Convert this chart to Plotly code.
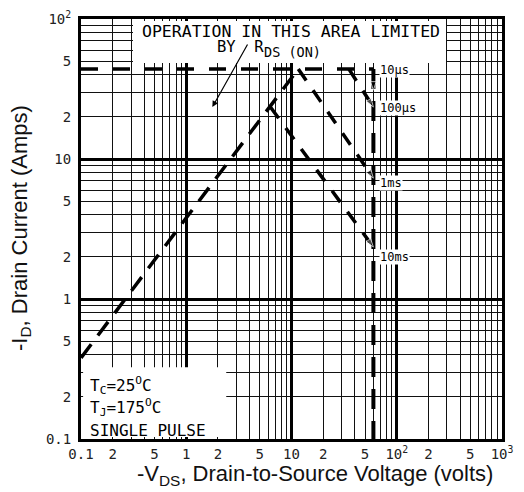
import math
import plotly.graph_objects as go

# ---- data (V in volts, I in amps) ----
rds_v = [0.1, 11.6]          # R_DS(on) limit line
rds_i = [0.38, 44]
lim_v = [0.1, 60]            # current limit line
lim_i = [44, 44]
bvdss_v = [60, 60]           # breakdown voltage limit
bvdss_i = [44, 0.1]
t10us_v = [60, 60]
t10us_i = [44, 31]
t100us_v = [35, 60]
t100us_i = [44, 23.5]
t1ms_v = [11.6, 60]
t1ms_i = [44, 7.3]
t10ms_v = [6.3, 60]
t10ms_i = [23.5, 2.35]

pulse_labels = ["10\u00b5s", "100\u00b5s", "1ms", "10ms"]
pulse_label_v = [68, 68, 68, 68]
pulse_label_i = [43, 23, 6.7, 2.0]

x_label_vals = [0.1, 0.2, 0.5, 1, 2, 5, 10, 20, 50, 100, 200, 500, 1000]
x_label_text = ["0.1", "2", "5", "1", "2", "5", "10", "2", "5",
                "10<sup>2</sup>", "2", "5", "10<sup>3</sup>"]
y_label_vals = [0.1, 0.2, 0.5, 1, 2, 5, 10, 20, 50, 100]
y_label_text = ["0.1", "2", "5", "1", "2", "5", "10", "2", "5", "10<sup>2</sup>"]

x_decades = [-1, 0, 1, 2]
y_decades = [-1, 0, 1]
major_x = [1, 10, 100]
major_y = [1, 10]


def grid_vals(decades, top):
    vals = []
    for e in decades:
        for m in range(1, 10):
            vals.append(round(m * 10.0 ** e, 6))
    vals.append(top)
    return vals


def tick_text(vals, lab_vals, lab_text):
    lut = {round(v, 6): t for v, t in zip(lab_vals, lab_text)}
    return [lut.get(round(v, 6), "") for v in vals]


xg = grid_vals(x_decades, 1000)
yg = grid_vals(y_decades, 100)

MONO = "DejaVu Sans Mono"
SANS = "Liberation Sans"

fig = go.Figure()

fig.add_trace(go.Scatter(x=[], y=[], xaxis="x2", yaxis="y2", showlegend=False))


def dashed(x, y, dash, width, arrow=False):
    kw = dict(x=x, y=y, mode="lines", showlegend=False, hoverinfo="skip",
              line=dict(color="black", width=width, dash=dash))
    if arrow:
        kw["mode"] = "lines+markers"
        kw["marker"] = dict(symbol="arrow", angleref="previous",
                            size=[0] * (len(x) - 1) + [9], color="black")
    fig.add_trace(go.Scatter(**kw))


dashed(rds_v, rds_i, "17px,11px", 3.5)
dashed(lim_v, lim_i, "17px,15px", 3.5)
dashed(bvdss_v, bvdss_i, "20px,12px", 4)
dashed(t10us_v, t10us_i, "solid", 2, arrow=True)
dashed(t100us_v, t100us_i, "14px,12px", 3.5, arrow=True)
dashed(t1ms_v, t1ms_i, "14px,12px", 3.5, arrow=True)
dashed(t10ms_v, t10ms_i, "14px,12px", 3.5, arrow=True)

annotations = []
for t, v, i in zip(pulse_labels, pulse_label_v, pulse_label_i):
    annotations.append(dict(x=math.log10(v), y=math.log10(i), xref="x", yref="y",
                            text=t, showarrow=False, xanchor="left", yanchor="middle",
                            bgcolor="white", borderpad=0,
                            font=dict(family=MONO, size=12, color="black")))

annotations += [
    dict(x=0.499, y=0.970, xref="paper", yref="paper", text="OPERATION IN THIS AREA LIMITED",
         showarrow=False, xanchor="center", yanchor="middle",
         font=dict(family=MONO, size=16.5, color="black")),
    dict(x=0.318, y=0.934, xref="paper", yref="paper",
         text="BY  R", showarrow=False, xanchor="left", yanchor="middle",
         font=dict(family=MONO, size=15.5, color="black")),
    dict(x=0.430, y=0.921, xref="paper", yref="paper",
         text="DS (ON)", showarrow=False, xanchor="left", yanchor="middle",
         font=dict(family=MONO, size=13.5, color="black")),
    dict(x=math.log10(1.77), y=math.log10(23.5), xref="x", yref="y", text="",
         showarrow=True, arrowhead=2, arrowsize=1, arrowwidth=1.2, arrowcolor="black",
         ax=36, ay=-64),
    dict(x=0.017, y=0.128, xref="paper", yref="paper",
         text="T<sub>C</sub>=25<sup>O</sup>C", showarrow=False, xanchor="left", yanchor="middle",
         font=dict(family=MONO, size=16, color="black")),
    dict(x=0.017, y=0.074, xref="paper", yref="paper",
         text="T<sub>J</sub>=175<sup>O</sup>C", showarrow=False, xanchor="left", yanchor="middle",
         font=dict(family=MONO, size=16, color="black")),
    dict(x=0.017, y=0.021, xref="paper", yref="paper",
         text="SINGLE PULSE", showarrow=False, xanchor="left", yanchor="middle",
         font=dict(family=MONO, size=16, color="black")),
    dict(x=0.556, y=-0.086, xref="paper", yref="paper",
         text="-V<sub>DS</sub>, Drain-to-Source Voltage (volts)", showarrow=False,
         xanchor="center", yanchor="middle", font=dict(family=SANS, size=22, color="#111")),
    dict(x=-0.143, y=0.502, xref="paper", yref="paper", textangle=-90,
         text="-I<sub>D</sub>, Drain Current (Amps)", showarrow=False,
         xanchor="center", yanchor="middle", font=dict(family=SANS, size=22, color="#111")),
]

shapes = [
    dict(type="rect", xref="paper", yref="paper", x0=0.1235, x1=0.867, y0=0.895, y1=0.995,
         fillcolor="white", line=dict(width=0), layer="above"),
    dict(type="rect", xref="paper", yref="paper", x0=0.005, x1=0.345, y0=0.005, y1=0.171,
         fillcolor="white", line=dict(width=0), layer="above"),
]

# the page body has an 8px margin, so the figure is offset by 8px
fig.update_layout(
    width=516, height=484,
    margin=dict(l=73, r=22, t=11, b=53),
    paper_bgcolor="white", plot_bgcolor="white",
    showlegend=False,
    xaxis=dict(type="log", range=[-1, 3], tickvals=xg, ticktext=tick_text(xg, x_label_vals, x_label_text),
               showgrid=True, gridcolor="#111", gridwidth=1, ticks="", ticklabelstandoff=0,
               tickangle=0, automargin=False,
               showline=True, linecolor="black", linewidth=3, mirror=True, zeroline=False,
               tickfont=dict(family=MONO, size=14, color="#222")),
    yaxis=dict(type="log", range=[-1, 2], tickvals=yg, ticktext=tick_text(yg, y_label_vals, y_label_text),
               showgrid=True, gridcolor="#111", gridwidth=1, ticks="", ticklabelstandoff=4,
               automargin=False,
               showline=True, linecolor="black", linewidth=3, mirror=True, zeroline=False,
               tickfont=dict(family=MONO, size=14, color="#222")),
    xaxis2=dict(type="log", range=[-1, 3], overlaying="x", tickvals=major_x, showgrid=True,
                gridcolor="black", gridwidth=2.5, showticklabels=False, ticks="", zeroline=False,
                automargin=False),
    yaxis2=dict(type="log", range=[-1, 2], overlaying="y", tickvals=major_y, showgrid=True,
                gridcolor="black", gridwidth=2.5, showticklabels=False, ticks="", zeroline=False,
                automargin=False),
    annotations=annotations,
    shapes=shapes,
)

fig.write_html("out.html")
